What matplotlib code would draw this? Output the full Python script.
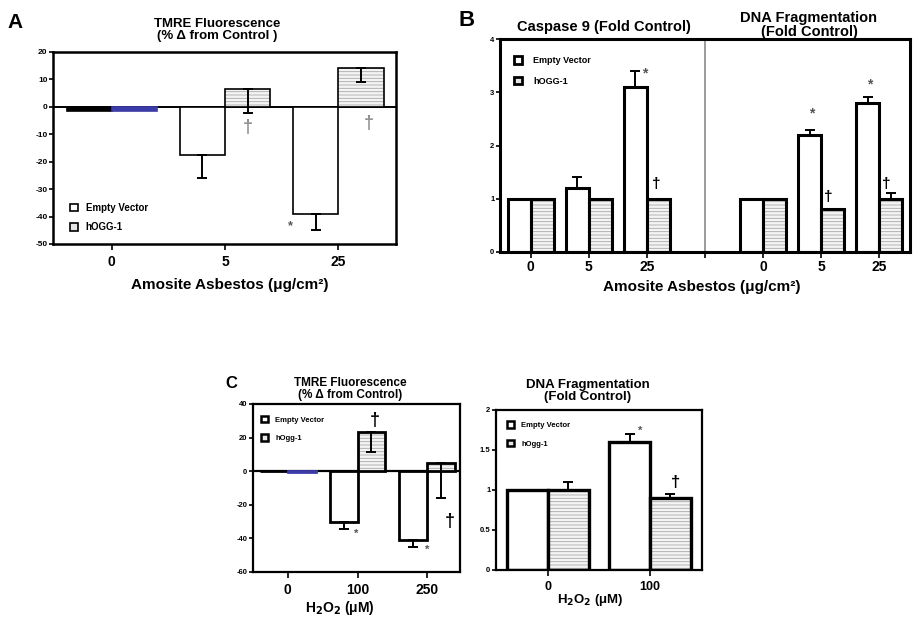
import numpy as np
import matplotlib.pyplot as plt
from matplotlib.patches import Patch

plt.rcParams['font.family'] = ['Liberation Sans', 'DejaVu Sans']
plt.rcParams['font.weight'] = 'bold'
plt.rcParams['hatch.linewidth'] = 0.6
plt.rcParams['axes.unicode_minus'] = False

# Panel A - TMRE, asbestos
a_doses = ['0', '5', '25']
a_empty = [-1.5, -17.5, -39]
a_empty_err = [0, 8.5, 6]
a_hogg = [-1.5, 6.5, 14]
a_hogg_err = [0, 8.8, 5]

# Panel B - caspase 9 and DNA fragmentation, asbestos
b_doses = ['0', '5', '25']
b_casp_empty = [1, 1.2, 3.1]
b_casp_empty_err = [0, 0.21, 0.3]
b_casp_hogg = [1, 1, 1]
b_casp_hogg_err = [0, 0, 0]
b_dna_empty = [1, 2.2, 2.8]
b_dna_empty_err = [0, 0.09, 0.11]
b_dna_hogg = [1, 0.8, 1.0]
b_dna_hogg_err = [0, 0, 0.1]

# Panel C - H2O2
c_doses = ['0', '100', '250']
c_tmre_empty = [0, -30, -41]
c_tmre_empty_err = [0, 4.5, 4]
c_tmre_hogg = [-0.6, 23.5, 4.8]
c_tmre_hogg_err = [0, 12, 21]
c_dna_doses = ['0', '100']
c_dna_empty = [1, 1.6]
c_dna_empty_err = [0, 0.1]
c_dna_hogg = [1, 0.9]
c_dna_hogg_err = [0.1, 0.05]

W, H = 917, 621
fig = plt.figure(figsize=(W / 100, H / 100), dpi=100)


def ptext(x, y, s, **kw):
    kw.setdefault('ha', 'center')
    kw.setdefault('va', 'center')
    fig.text(x / W, 1 - y / H, s, **kw)


def add_ax(x0, y0, x1, y1):
    return fig.add_axes([x0 / W, 1 - y1 / H, (x1 - x0) / W, (y1 - y0) / H])


HATCH_FACE = '#f4f4f4'
HATCH_LINE = '#a8a8a8'


def bars(ax, x, vals, errs, kind, lw, down=False, face=None, w=0.4):
    xs = np.asarray(x, dtype=float) + (-w / 2 if kind == 'empty' else w / 2)
    if kind == 'empty':
        fc = face if face else ['white'] * len(xs)
        ec = ['black' if f == 'white' else f for f in fc]
        ax.bar(xs, vals, w, facecolor=fc, edgecolor=ec, linewidth=lw, zorder=2)
    else:
        ax.bar(xs, vals, w, facecolor=HATCH_FACE, edgecolor=HATCH_LINE,
               linewidth=0, hatch='-----', zorder=2)
        fc = face if face else [None] * len(xs)
        over = ['none' if f is None else f for f in fc]
        ec = ['black' if f is None else f for f in fc]
        ax.bar(xs, vals, w, facecolor=over, edgecolor=ec, linewidth=lw, zorder=3)
    errs = np.asarray(errs, dtype=float)
    m = errs > 0
    if m.any():
        v = np.asarray(vals, dtype=float)[m]
        e = errs[m]
        yerr = [e, np.zeros_like(e)] if down else [np.zeros_like(e), e]
        ax.errorbar(xs[m], v, yerr=yerr, fmt='none', ecolor='black',
                    elinewidth=1.4, capsize=3.5, capthick=1.4, zorder=4)


def style(ax, lw, ysize=6):
    for s in ax.spines.values():
        s.set_linewidth(lw)
    ax.tick_params(axis='y', direction='out', length=3, width=1.2, labelsize=ysize, pad=1)
    ax.tick_params(axis='x', direction='out', length=4, width=1.2, labelsize=10, pad=4)


# ---- Panel A ----
axA = add_ax(53, 52, 396, 244)
xa = np.arange(len(a_doses))
bars(axA, xa, a_empty, a_empty_err, 'empty', 1.2, down=True,
     face=['black', 'white', 'white'])
bars(axA, xa, a_hogg, a_hogg_err, 'hogg', 1.2, down=True,
     face=['#3c3ca8', None, None])
axA.axhline(0, color='black', lw=1.4, zorder=1)
axA.set_xlim(-0.52, 2.51)
axA.set_ylim(-50, 20)
axA.set_yticks(np.arange(-50, 21, 10))
axA.set_xticks(xa)
axA.set_xticklabels(a_doses)
style(axA, 1.8)
for xi, yi in [(1.2, -7.5), (2.27, -6)]:
    axA.text(xi, yi, '\u2020', color='#8c8c8c', fontsize=13, ha='center', va='center')
axA.text(1.58, -43.5, '*', color='#555555', fontsize=9, ha='center', va='center')
axA.legend(handles=[Patch(facecolor='white', edgecolor='black', lw=1.2),
                    Patch(facecolor='#e6e6e6', edgecolor='black', lw=1.2)],
           labels=['Empty Vector', 'hOGG-1'], loc='upper left',
           bbox_to_anchor=(0.05, 0.215), frameon=False, fontsize=7,
           handlelength=0.8, handleheight=0.8, handletextpad=0.8,
           labelspacing=1.0, borderpad=0, borderaxespad=0)
ptext(15, 22, 'A', fontsize=15)
ptext(217, 30, 'TMRE Fluorescence\n(% \u0394 from Control )', fontsize=9.5, linespacing=1.1)
ptext(230, 285, 'Amosite Asbestos (\u03bcg/cm\u00b2)', fontsize=11)

# ---- Panel B ----
axB = add_ax(500, 39, 910, 252)
xb1 = np.arange(len(b_doses))
xb2 = xb1 + len(b_doses) + 1
bars(axB, xb1, b_casp_empty, b_casp_empty_err, 'empty', 2.2)
bars(axB, xb1, b_casp_hogg, b_casp_hogg_err, 'hogg', 2.2)
bars(axB, xb2, b_dna_empty, b_dna_empty_err, 'empty', 2.2)
bars(axB, xb2, b_dna_hogg, b_dna_hogg_err, 'hogg', 2.2)
axB.axvline(len(b_doses), color='#8a8a8a', lw=1.2, zorder=1)
axB.set_xlim(-0.53, 6.53)
axB.set_ylim(0, 4)
axB.set_yticks(np.arange(0, 5, 1))
axB.set_xticks(list(xb1) + list(xb2))
axB.set_xticklabels(b_doses + b_doses)
axB.set_xticks([len(b_doses)], minor=True)
style(axB, 2.2, ysize=5.5)
axB.tick_params(axis='x', pad=2)
axB.tick_params(axis='x', which='minor', length=4, width=1.2)
axB.text(1.97, 3.36, '*', color='#555555', fontsize=10, ha='center', va='center')
axB.text(4.84, 2.6, '*', color='#555555', fontsize=10, ha='center', va='center')
axB.text(5.83, 3.15, '*', color='#555555', fontsize=10, ha='center', va='center')
for xi, yi in [(2.16, 1.27), (5.12, 1.03), (6.12, 1.27)]:
    axB.text(xi, yi, '\u2020', color='black', fontsize=11, ha='center', va='center')
axB.legend(handles=[Patch(facecolor='white', edgecolor='black', lw=2),
                    Patch(facecolor='#e6e6e6', edgecolor='black', lw=2)],
           labels=['Empty Vector', 'hOGG-1'], loc='upper left',
           bbox_to_anchor=(0.035, 0.92), frameon=False, fontsize=6.5,
           handlelength=0.9, handleheight=0.9, handletextpad=1.2,
           labelspacing=1.3, borderpad=0, borderaxespad=0)
ptext(467, 20, 'B', fontsize=16)
ptext(604, 27, 'Caspase 9 (Fold Control)', fontsize=10.5)
ptext(809, 25, 'DNA Fragmentation\n(Fold Control)', fontsize=10.5, linespacing=1.05)
ptext(702, 287, 'Amosite Asbestos (\u03bcg/cm\u00b2)', fontsize=11)

# ---- Panel C, TMRE ----
axC = add_ax(253, 404, 460, 572)
xc = np.arange(len(c_doses))
bars(axC, xc, c_tmre_empty, c_tmre_empty_err, 'empty', 2.0, down=True)
bars(axC, xc, c_tmre_hogg, c_tmre_hogg_err, 'hogg', 2.0, down=True,
     face=['#3c3ca8', None, None])
axC.axhline(0, color='black', lw=1.6, zorder=1)
axC.set_xlim(-0.5, 2.47)
axC.set_ylim(-60, 40)
axC.set_yticks(np.arange(-60, 41, 20))
axC.set_xticks(xc)
axC.set_xticklabels(c_doses)
style(axC, 1.6, ysize=5.5)
axC.text(0.98, -37, '*', color='#555555', fontsize=8, ha='center', va='center')
axC.text(2.0, -47, '*', color='#555555', fontsize=8, ha='center', va='center')
axC.text(1.25, 30, '\u2020', color='black', fontsize=13, ha='center', va='center')
axC.text(2.33, -30, '\u2020', color='black', fontsize=13, ha='center', va='center')
axC.legend(handles=[Patch(facecolor='white', edgecolor='black', lw=1.8),
                    Patch(facecolor='#e6e6e6', edgecolor='black', lw=1.8)],
           labels=['Empty Vector', 'hOgg-1'], loc='upper left',
           bbox_to_anchor=(0.04, 0.93), frameon=False, fontsize=5.5,
           handlelength=0.9, handleheight=0.9, handletextpad=0.9,
           labelspacing=1.4, borderpad=0, borderaxespad=0)
ptext(231, 384, 'C', fontsize=12)
ptext(350, 389, 'TMRE Fluorescence\n(% \u0394 from Control)', fontsize=8.5, linespacing=1.1)
ptext(340, 608, 'H$_2$O$_2$ (\u03bcM)', fontsize=10)

# ---- Panel C, DNA fragmentation ----
axD = add_ax(496, 410, 702, 570)
xd = np.arange(len(c_dna_doses))
bars(axD, xd, c_dna_empty, c_dna_empty_err, 'empty', 2.4)
bars(axD, xd, c_dna_hogg, c_dna_hogg_err, 'hogg', 2.4)
axD.set_xlim(-0.51, 1.51)
axD.set_ylim(0, 2)
axD.set_yticks([0, 0.5, 1, 1.5, 2])
axD.set_yticklabels(['0', '0.5', '1', '1.5', '2'])
axD.set_xticks(xd)
axD.set_xticklabels(c_dna_doses)
style(axD, 1.6, ysize=5.5)
axD.tick_params(axis='x', labelsize=9)
axD.text(0.9, 1.74, '*', color='#555555', fontsize=8, ha='center', va='center')
axD.text(1.25, 1.1, '\u2020', color='black', fontsize=12, ha='center', va='center')
axD.legend(handles=[Patch(facecolor='white', edgecolor='black', lw=1.8),
                    Patch(facecolor='#e6e6e6', edgecolor='black', lw=1.8)],
           labels=['Empty Vector', 'hOgg-1'], loc='upper left',
           bbox_to_anchor=(0.055, 0.93), frameon=False, fontsize=5.5,
           handlelength=0.9, handleheight=0.9, handletextpad=0.9,
           labelspacing=1.4, borderpad=0, borderaxespad=0)
ptext(588, 391, 'DNA Fragmentation\n(Fold Control)', fontsize=9.5, linespacing=1.05)
ptext(590, 600, 'H$_2$O$_2$ (\u03bcM)', fontsize=9.5)

fig.savefig('out.png', dpi=100, facecolor='white')
